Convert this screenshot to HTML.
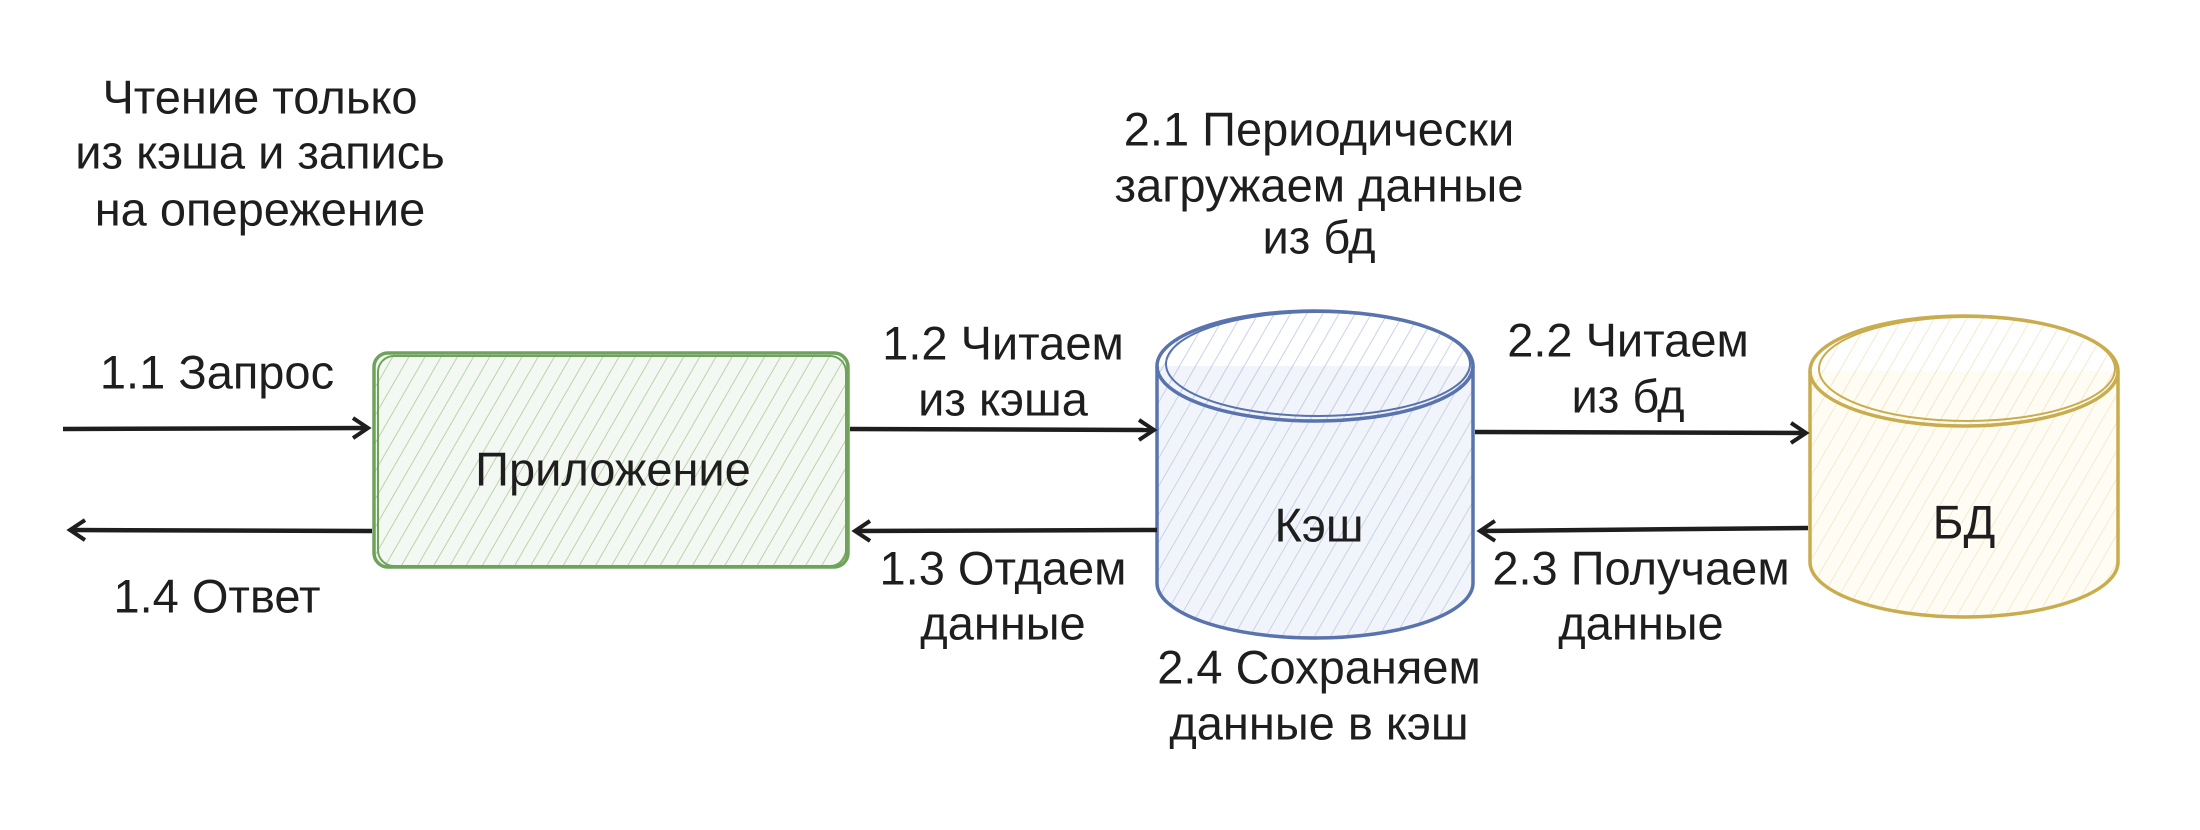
<!DOCTYPE html>
<html><head><meta charset="utf-8"><style>
html,body{margin:0;padding:0;background:#fff;}
svg{display:block}
text{font-family:"Liberation Sans Narrow","Liberation Sans","DejaVu Sans",sans-serif;font-size:47px;fill:#1e1e1e;text-anchor:middle;dominant-baseline:middle}
</style></head><body>
<svg width="2200" height="830" viewBox="0 0 2200 830" xmlns="http://www.w3.org/2000/svg">
<defs>
<pattern id="hg" patternUnits="userSpaceOnUse" width="14" height="14" patternTransform="rotate(30)"><line x1="0" y1="0" x2="0" y2="14" stroke="#b9d3ad" stroke-width="2"/></pattern>
<pattern id="hb" patternUnits="userSpaceOnUse" width="14" height="14" patternTransform="rotate(30)"><line x1="0" y1="0" x2="0" y2="14" stroke="#c9d3e6" stroke-width="2"/></pattern>
<pattern id="hy" patternUnits="userSpaceOnUse" width="14" height="14" patternTransform="rotate(30)"><line x1="0" y1="0" x2="0" y2="14" stroke="#f3ead0" stroke-width="2"/></pattern>
<marker id="ar" markerWidth="26" markerHeight="26" refX="20" refY="13" orient="auto" markerUnits="userSpaceOnUse"><path d="M5,3 L20,13 L5,23" fill="none" stroke="#1e1e1e" stroke-width="4"/></marker>
</defs>
<rect x="374" y="353" width="474" height="214" rx="14" fill="#f4f8f2"/>
<rect x="374" y="353" width="474" height="214" rx="14" fill="url(#hg)" stroke="#6fa35c" stroke-width="3.5"/>
<rect x="378" y="356" width="468" height="210" rx="16" fill="none" stroke="#6fa35c" stroke-width="2"/>
<path d="M1157,366 L1157,583 A158,55 0 0 0 1473,583 L1473,366" fill="#f1f4fa"/>
<path d="M1157,366 L1157,583 A158,55 0 0 0 1473,583 L1473,366" fill="url(#hb)" stroke="#5873ad" stroke-width="3.5"/>
<ellipse cx="1315" cy="366" rx="158" ry="55" fill="url(#hb)" stroke="#5873ad" stroke-width="3.5"/>
<ellipse cx="1318" cy="364" rx="152" ry="52" fill="none" stroke="#5873ad" stroke-width="2"/>
<path d="M1810,371 L1810,562 A154,55 0 0 0 2118,562 L2118,371" fill="#fffcf3"/>
<path d="M1810,371 L1810,562 A154,55 0 0 0 2118,562 L2118,371" fill="url(#hy)" stroke="#c9ac4e" stroke-width="3.5"/>
<ellipse cx="1964" cy="371" rx="154" ry="55" fill="url(#hy)" stroke="#c9ac4e" stroke-width="3.5"/>
<ellipse cx="1967" cy="369" rx="148" ry="52" fill="none" stroke="#c9ac4e" stroke-width="2"/>
<g stroke="#1e1e1e" stroke-width="4.5" fill="none">
<path d="M63,429 L368,428" marker-end="url(#ar)"/>
<path d="M372,531 L70,530" marker-end="url(#ar)"/>
<path d="M850,429 L1154,430" marker-end="url(#ar)"/>
<path d="M1157,530 L855,531" marker-end="url(#ar)"/>
<path d="M1475,432 L1806,433" marker-end="url(#ar)"/>
<path d="M1808,528 L1480,531" marker-end="url(#ar)"/>
</g>
<text x="260" y="101">Чтение только</text>
<text x="260" y="156">из кэша и запись</text>
<text x="260" y="213">на опережение</text>
<text x="1319" y="133">2.1 Периодически</text>
<text x="1319" y="189">загружаем данные</text>
<text x="1319" y="241">из бд</text>
<text x="217" y="376">1.1 Запрос</text>
<text x="217" y="600">1.4 Ответ</text>
<text x="1003" y="347">1.2 Читаем</text>
<text x="1003" y="403">из кэша</text>
<text x="1003" y="572">1.3 Отдаем</text>
<text x="1003" y="627">данные</text>
<text x="1628" y="344">2.2 Читаем</text>
<text x="1628" y="400">из бд</text>
<text x="1641" y="572">2.3 Получаем</text>
<text x="1641" y="627">данные</text>
<text x="1319" y="671">2.4 Сохраняем</text>
<text x="1319" y="727">данные в кэш</text>
<text x="613" y="473">Приложение</text>
<text x="1319" y="529">Кэш</text>
<text x="1964" y="526">БД</text>
</svg>
</body></html>
